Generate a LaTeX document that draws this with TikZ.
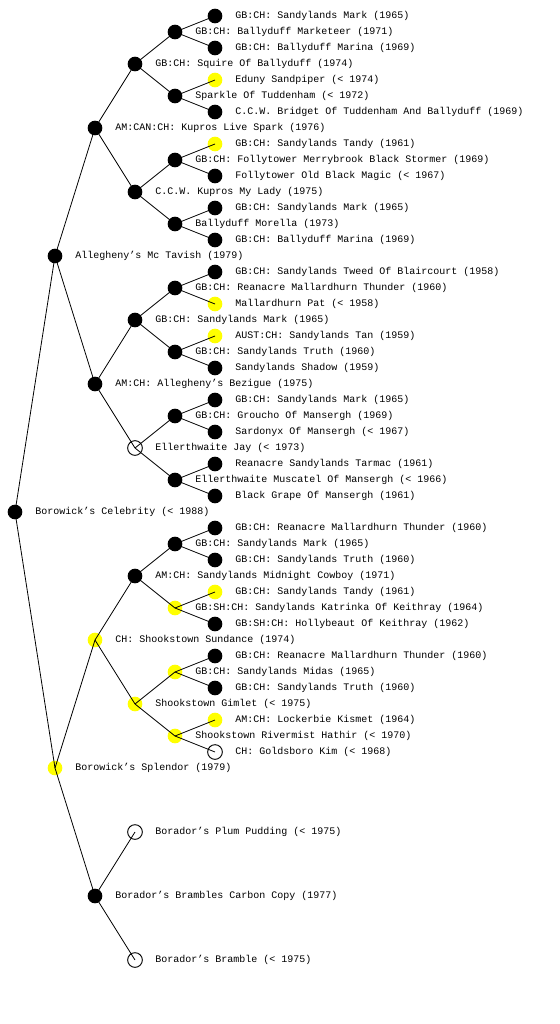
\documentclass[tikz,border=0pt]{standalone}
\usepackage{fontspec}
\setmonofont{Liberation Mono}
\usepackage{xcolor}
\usepackage{tikz}
\usetikzlibrary{positioning, calc}
\definecolor{known}  {HTML}{000000}
\definecolor{marked} {HTML}{FFFF00}

\begin{document}
\begin{tikzpicture}[x=0.75pt, y=-0.75pt,
  % Black dot: ancestor on file, yellow: highlighted, open: no record.
  blk/.style={circle, fill=known, minimum size=11pt, inner sep=0pt},
  ylw/.style={circle, fill=marked, minimum size=11pt, inner sep=0pt},
  opn/.style={circle, draw, fill=white, line width=0.7pt, minimum size=11pt, inner sep=0pt},
  edge/.style={line width=0.6pt},
  txt/.style={anchor=west, inner sep=0pt, font=\ttfamily\fontsize{7.5}{9}\selectfont}
]
\useasboundingbox (0,0) rectangle (560,1024);

% --- Dog ---
\node[blk] (c) at (15,512) {};

% --- Sire side ---
\node[blk] (s)     at (55,256) {};
\node[blk] (ss)    at (95,128) {};
\node[blk] (sss)   at (135,64) {};
\node[blk] (ssss)  at (175,32) {};
\node[blk] (sssss) at (215,16) {};
\node[blk] (ssssd) at (215,48) {};
\node[blk] (sssd)  at (175,96) {};
\node[ylw] (sssds) at (215,80) {};
\node[blk] (sssdd) at (215,112) {};
\node[blk] (ssd)   at (135,192) {};
\node[blk] (ssds)  at (175,160) {};
\node[ylw] (ssdss) at (215,144) {};
\node[blk] (ssdsd) at (215,176) {};
\node[blk] (ssdd)  at (175,224) {};
\node[blk] (ssdds) at (215,208) {};
\node[blk] (ssddd) at (215,240) {};
\node[blk] (sd)    at (95,384) {};
\node[blk] (sds)   at (135,320) {};
\node[blk] (sdss)  at (175,288) {};
\node[blk] (sdsss) at (215,272) {};
\node[ylw] (sdssd) at (215,304) {};
\node[blk] (sdsd)  at (175,352) {};
\node[ylw] (sdsds) at (215,336) {};
\node[blk] (sdsdd) at (215,368) {};
\node[opn] (sdd)   at (135,448) {};
\node[blk] (sdds)  at (175,416) {};
\node[blk] (sddss) at (215,400) {};
\node[blk] (sddsd) at (215,432) {};
\node[blk] (sddd)  at (175,480) {};
\node[blk] (sddds) at (215,464) {};
\node[blk] (sdddd) at (215,496) {};

% --- Dam side ---
\node[ylw] (d)     at (55,768) {};
\node[ylw] (ds)    at (95,640) {};
\node[blk] (dss)   at (135,576) {};
\node[blk] (dsss)  at (175,544) {};
\node[blk] (dssss) at (215,528) {};
\node[blk] (dsssd) at (215,560) {};
\node[ylw] (dssd)  at (175,608) {};
\node[ylw] (dssds) at (215,592) {};
\node[blk] (dssdd) at (215,624) {};
\node[ylw] (dsd)   at (135,704) {};
\node[ylw] (dsds)  at (175,672) {};
\node[blk] (dsdss) at (215,656) {};
\node[blk] (dsdsd) at (215,688) {};
\node[ylw] (dsdd)  at (175,736) {};
\node[ylw] (dsdds) at (215,720) {};
\node[opn] (dsddd) at (215,752) {};
\node[blk] (dd)    at (95,896) {};
\node[opn] (dds)   at (135,832) {};
\node[opn] (ddd)   at (135,960) {};

% --- Lines (drawn over the dots) ---
\draw[edge] (c.center) -- (s.center);
\draw[edge] (c.center) -- (d.center);
\draw[edge] (s.center) -- (ss.center);
\draw[edge] (s.center) -- (sd.center);
\draw[edge] (ss.center) -- (sss.center);
\draw[edge] (ss.center) -- (ssd.center);
\draw[edge] (sss.center) -- (ssss.center);
\draw[edge] (sss.center) -- (sssd.center);
\draw[edge] (ssss.center) -- (sssss.center);
\draw[edge] (ssss.center) -- (ssssd.center);
\draw[edge] (sssd.center) -- (sssds.center);
\draw[edge] (sssd.center) -- (sssdd.center);
\draw[edge] (ssd.center) -- (ssds.center);
\draw[edge] (ssd.center) -- (ssdd.center);
\draw[edge] (ssds.center) -- (ssdss.center);
\draw[edge] (ssds.center) -- (ssdsd.center);
\draw[edge] (ssdd.center) -- (ssdds.center);
\draw[edge] (ssdd.center) -- (ssddd.center);
\draw[edge] (sd.center) -- (sds.center);
\draw[edge] (sd.center) -- (sdd.center);
\draw[edge] (sds.center) -- (sdss.center);
\draw[edge] (sds.center) -- (sdsd.center);
\draw[edge] (sdss.center) -- (sdsss.center);
\draw[edge] (sdss.center) -- (sdssd.center);
\draw[edge] (sdsd.center) -- (sdsds.center);
\draw[edge] (sdsd.center) -- (sdsdd.center);
\draw[edge] (sdd.center) -- (sdds.center);
\draw[edge] (sdd.center) -- (sddd.center);
\draw[edge] (sdds.center) -- (sddss.center);
\draw[edge] (sdds.center) -- (sddsd.center);
\draw[edge] (sddd.center) -- (sddds.center);
\draw[edge] (sddd.center) -- (sdddd.center);
\draw[edge] (d.center) -- (ds.center);
\draw[edge] (d.center) -- (dd.center);
\draw[edge] (ds.center) -- (dss.center);
\draw[edge] (ds.center) -- (dsd.center);
\draw[edge] (dss.center) -- (dsss.center);
\draw[edge] (dss.center) -- (dssd.center);
\draw[edge] (dsss.center) -- (dssss.center);
\draw[edge] (dsss.center) -- (dsssd.center);
\draw[edge] (dssd.center) -- (dssds.center);
\draw[edge] (dssd.center) -- (dssdd.center);
\draw[edge] (dsd.center) -- (dsds.center);
\draw[edge] (dsd.center) -- (dsdd.center);
\draw[edge] (dsds.center) -- (dsdss.center);
\draw[edge] (dsds.center) -- (dsdsd.center);
\draw[edge] (dsdd.center) -- (dsdds.center);
\draw[edge] (dsdd.center) -- (dsddd.center);
\draw[edge] (dd.center) -- (dds.center);
\draw[edge] (dd.center) -- (ddd.center);

% --- Names ---
\node[txt] at ([xshift=15pt]c.center) {Borowick’s Celebrity (< 1988)};
\node[txt] at ([xshift=15pt]s.center) {Allegheny’s Mc Tavish (1979)};
\node[txt] at ([xshift=15pt]ss.center) {AM:CAN:CH: Kupros Live Spark (1976)};
\node[txt] at ([xshift=15pt]sss.center) {GB:CH: Squire Of Ballyduff (1974)};
\node[txt] at ([xshift=15pt]ssss.center) {GB:CH: Ballyduff Marketeer (1971)};
\node[txt] at ([xshift=15pt]sssss.center) {GB:CH: Sandylands Mark (1965)};
\node[txt] at ([xshift=15pt]ssssd.center) {GB:CH: Ballyduff Marina (1969)};
\node[txt] at ([xshift=15pt]sssd.center) {Sparkle Of Tuddenham (< 1972)};
\node[txt] at ([xshift=15pt]sssds.center) {Eduny Sandpiper (< 1974)};
\node[txt] at ([xshift=15pt]sssdd.center) {C.C.W. Bridget Of Tuddenham And Ballyduff (1969)};
\node[txt] at ([xshift=15pt]ssd.center) {C.C.W. Kupros My Lady (1975)};
\node[txt] at ([xshift=15pt]ssds.center) {GB:CH: Follytower Merrybrook Black Stormer (1969)};
\node[txt] at ([xshift=15pt]ssdss.center) {GB:CH: Sandylands Tandy (1961)};
\node[txt] at ([xshift=15pt]ssdsd.center) {Follytower Old Black Magic (< 1967)};
\node[txt] at ([xshift=15pt]ssdd.center) {Ballyduff Morella (1973)};
\node[txt] at ([xshift=15pt]ssdds.center) {GB:CH: Sandylands Mark (1965)};
\node[txt] at ([xshift=15pt]ssddd.center) {GB:CH: Ballyduff Marina (1969)};
\node[txt] at ([xshift=15pt]sd.center) {AM:CH: Allegheny’s Bezigue (1975)};
\node[txt] at ([xshift=15pt]sds.center) {GB:CH: Sandylands Mark (1965)};
\node[txt] at ([xshift=15pt]sdss.center) {GB:CH: Reanacre Mallardhurn Thunder (1960)};
\node[txt] at ([xshift=15pt]sdsss.center) {GB:CH: Sandylands Tweed Of Blaircourt (1958)};
\node[txt] at ([xshift=15pt]sdssd.center) {Mallardhurn Pat (< 1958)};
\node[txt] at ([xshift=15pt]sdsd.center) {GB:CH: Sandylands Truth (1960)};
\node[txt] at ([xshift=15pt]sdsds.center) {AUST:CH: Sandylands Tan (1959)};
\node[txt] at ([xshift=15pt]sdsdd.center) {Sandylands Shadow (1959)};
\node[txt] at ([xshift=15pt]sdd.center) {Ellerthwaite Jay (< 1973)};
\node[txt] at ([xshift=15pt]sdds.center) {GB:CH: Groucho Of Mansergh (1969)};
\node[txt] at ([xshift=15pt]sddss.center) {GB:CH: Sandylands Mark (1965)};
\node[txt] at ([xshift=15pt]sddsd.center) {Sardonyx Of Mansergh (< 1967)};
\node[txt] at ([xshift=15pt]sddd.center) {Ellerthwaite Muscatel Of Mansergh (< 1966)};
\node[txt] at ([xshift=15pt]sddds.center) {Reanacre Sandylands Tarmac (1961)};
\node[txt] at ([xshift=15pt]sdddd.center) {Black Grape Of Mansergh (1961)};
\node[txt] at ([xshift=15pt]d.center) {Borowick’s Splendor (1979)};
\node[txt] at ([xshift=15pt]ds.center) {CH: Shookstown Sundance (1974)};
\node[txt] at ([xshift=15pt]dss.center) {AM:CH: Sandylands Midnight Cowboy (1971)};
\node[txt] at ([xshift=15pt]dsss.center) {GB:CH: Sandylands Mark (1965)};
\node[txt] at ([xshift=15pt]dssss.center) {GB:CH: Reanacre Mallardhurn Thunder (1960)};
\node[txt] at ([xshift=15pt]dsssd.center) {GB:CH: Sandylands Truth (1960)};
\node[txt] at ([xshift=15pt]dssd.center) {GB:SH:CH: Sandylands Katrinka Of Keithray (1964)};
\node[txt] at ([xshift=15pt]dssds.center) {GB:CH: Sandylands Tandy (1961)};
\node[txt] at ([xshift=15pt]dssdd.center) {GB:SH:CH: Hollybeaut Of Keithray (1962)};
\node[txt] at ([xshift=15pt]dsd.center) {Shookstown Gimlet (< 1975)};
\node[txt] at ([xshift=15pt]dsds.center) {GB:CH: Sandylands Midas (1965)};
\node[txt] at ([xshift=15pt]dsdss.center) {GB:CH: Reanacre Mallardhurn Thunder (1960)};
\node[txt] at ([xshift=15pt]dsdsd.center) {GB:CH: Sandylands Truth (1960)};
\node[txt] at ([xshift=15pt]dsdd.center) {Shookstown Rivermist Hathir (< 1970)};
\node[txt] at ([xshift=15pt]dsdds.center) {AM:CH: Lockerbie Kismet (1964)};
\node[txt] at ([xshift=15pt]dsddd.center) {CH: Goldsboro Kim (< 1968)};
\node[txt] at ([xshift=15pt]dd.center) {Borador’s Brambles Carbon Copy (1977)};
\node[txt] at ([xshift=15pt]dds.center) {Borador’s Plum Pudding (< 1975)};
\node[txt] at ([xshift=15pt]ddd.center) {Borador’s Bramble (< 1975)};

\end{tikzpicture}
\end{document}
